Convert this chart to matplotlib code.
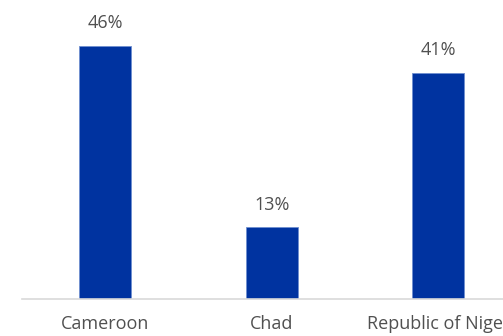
import matplotlib.pyplot as plt

countries = ['Cameroon', 'Chad', 'Republic of Niger']
shares = [46, 13, 41]
labels = ['46%', '13%', '41%']

plt.rcParams['font.family'] = ['Open Sans', 'DejaVu Sans']

fig = plt.figure(figsize=(5.03, 3.36), dpi=100)
ax = fig.add_axes([22 / 503, 37 / 336, 499.5 / 503, 299 / 336])

x = range(len(countries))
bars = ax.bar(x, shares, width=0.31, color='#0033A0', edgecolor='#6F8FD0', linewidth=0.6)

for b, lab in zip(bars, labels):
    ax.annotate(lab, (b.get_x() + b.get_width() / 2, b.get_height()),
                xytext=(0, 10), textcoords='offset points',
                ha='center', va='bottom', fontsize=13, color='#505050')

ax.set_xlim(-0.5, 2.5)
ax.set_ylim(0, 54.3)
ax.set_xticks(list(x))
ax.set_xticklabels(countries, fontsize=13, color='#505050')
ax.tick_params(axis='x', length=0, pad=11.5)
ax.set_yticks([])
for s in ['top', 'right', 'left']:
    ax.spines[s].set_visible(False)
ax.spines['bottom'].set_color('#D9D9D9')
ax.spines['bottom'].set_linewidth(1.2)

fig.savefig('out.png', dpi=100)
